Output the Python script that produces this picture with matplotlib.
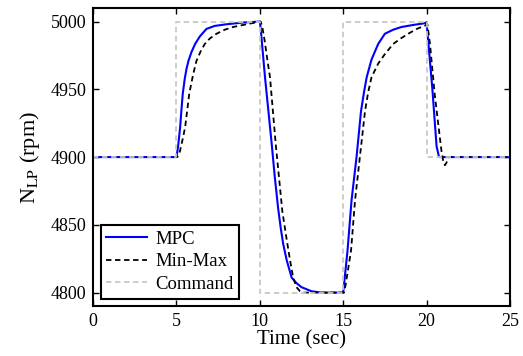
import matplotlib
matplotlib.use("Agg")
import matplotlib.pyplot as plt

plt.rcParams['font.family'] = ['Liberation Serif', 'DejaVu Serif']
plt.rcParams['mathtext.fontset'] = 'stix'

# command (reference speed)
t_cmd = [0, 5, 5, 10, 10, 15, 15, 20, 20, 25]
n_cmd = [4900, 4900, 5000, 5000, 4800, 4800, 5000, 5000, 4900, 4900]

# MPC response
t_mpc = [0, 5.0, 5.1, 5.22, 5.3, 5.38, 5.5, 5.6, 5.72, 5.9, 6.12, 6.4, 6.8,
         7.3, 8.0, 9.0, 10.0,
         10.05, 10.31, 10.71, 10.9, 11.1, 11.25, 11.4, 11.61, 11.91, 12.2,
         12.5, 13.1, 13.7, 15.0,
         15.26, 15.5, 15.8, 16.07, 16.25, 16.41, 16.7, 17.1, 17.5, 18.0,
         18.5, 19.2, 19.9, 20.0,
         20.35, 20.6, 20.75, 25]
n_mpc = [4900, 4900, 4908, 4922, 4935, 4947, 4958, 4965, 4971, 4977.5,
         4983.5, 4989, 4994.6, 4996.8, 4998, 4999.3, 5000,
         4995, 4959, 4910, 4885, 4862, 4848, 4836, 4824, 4811, 4807,
         4804, 4801, 4800, 4800,
         4831, 4868, 4900, 4934, 4948, 4959, 4972, 4983.5, 4991, 4994,
         4996, 4997.5, 4998.8, 4999.5,
         4950, 4908, 4900, 4900]

# Min-Max response
t_mm = [0, 3.0, 3.1, 3.2, 5.05, 5.2, 5.35, 5.52, 5.65, 5.77, 6.0, 6.2, 6.45,
        6.7, 7.0, 7.4, 7.9, 8.4, 9.4, 10.05,
        10.15, 10.3, 10.45, 10.61, 10.95, 11.35, 11.6, 11.81, 12.0, 12.2,
        12.41, 12.6, 15.05,
        15.15, 15.47, 15.71, 16.0, 16.31, 16.5, 16.7, 17.1, 17.5, 18.0,
        18.45, 18.9, 19.4, 19.9, 20.05,
        20.2, 20.5, 20.9, 21.0, 21.1, 21.2, 21.3, 25]
n_mm = [4900, 4900, 4901, 4900, 4900, 4904, 4912, 4922, 4935, 4947, 4961,
        4971, 4978, 4983.5, 4987.5, 4991, 4994, 4996, 4998.5, 5000,
        4996, 4985, 4972, 4959, 4910, 4860, 4840, 4824, 4811, 4804,
        4801, 4800, 4800,
        4806, 4831, 4868, 4900, 4934, 4948, 4959, 4969, 4976, 4983.5,
        4987.5, 4991, 4994.5, 4997, 4998,
        4984, 4945, 4904, 4897, 4894, 4896, 4900, 4900]

fig = plt.figure(figsize=(5.23, 3.56), dpi=100)
ax = fig.add_axes([0.178, 0.140, 0.797, 0.8375])

ax.plot(t_mpc, n_mpc, color='blue', lw=1.5, label='MPC')
ax.plot(t_mm, n_mm, color='black', lw=1.3, ls=(0, (3, 2)), label='Min-Max')
ax.plot(t_cmd, n_cmd, color='#c8c8c8', lw=1.3, ls=(0, (3, 2)), label='Command')

ax.set_xlim(0, 25)
ax.set_ylim(4790, 5010)
ax.set_xticks([0, 5, 10, 15, 20, 25])
ax.set_yticks([4800, 4850, 4900, 4950, 5000])
ax.tick_params(direction='in', top=True, right=True, length=4, width=1,
               labelsize=13, pad=5)
for s in ax.spines.values():
    s.set_linewidth(1.5)

ax.set_xlabel('Time (sec)', fontsize=15, labelpad=0)
ax.set_ylabel(r'N$_{\mathrm{LP}}$ (rpm)', fontsize=16, labelpad=6)

leg = ax.legend(loc='lower left', fontsize=13.5, fancybox=False, framealpha=1,
                edgecolor='black', handlelength=2.2, handletextpad=0.4,
                labelspacing=0.3, borderpad=0.3, borderaxespad=0.4)
leg.get_frame().set_linewidth(1.5)

fig.savefig('out.png', dpi=100)
